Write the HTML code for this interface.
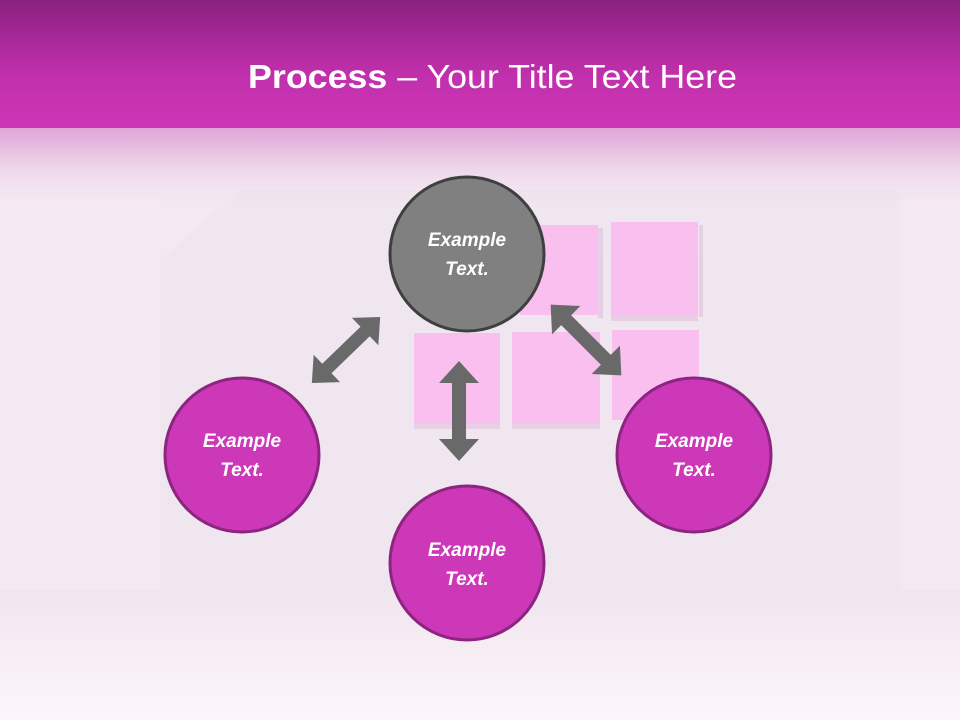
<!DOCTYPE html>
<html><head><meta charset="utf-8"><style>
html,body{margin:0;padding:0;}
body{width:960px;height:720px;overflow:hidden;position:relative;background:#f2e6f0;font-family:"Liberation Sans",sans-serif;}
</style></head><body>
<svg width="960" height="720" viewBox="0 0 960 720" xmlns="http://www.w3.org/2000/svg" style="position:absolute;left:0;top:0">
<defs>
<linearGradient id="hd" x1="0" y1="0" x2="0" y2="1">
<stop offset="0" stop-color="#8b2180"/>
<stop offset="0.6" stop-color="#c230ad"/>
<stop offset="1" stop-color="#cc35b5"/>
</linearGradient>
<linearGradient id="fade" x1="0" y1="0" x2="0" y2="1">
<stop offset="0" stop-color="#dfa6d6"/>
<stop offset="0.4" stop-color="#ebcde6"/>
<stop offset="1" stop-color="#f1e4ef" stop-opacity="0"/>
</linearGradient>
<linearGradient id="floor" x1="0" y1="0" x2="0" y2="1">
<stop offset="0" stop-color="#f1e5ef"/>
<stop offset="1" stop-color="#fcf6fb"/>
</linearGradient>
</defs>
<rect x="0" y="0" width="960" height="720" fill="#f4e9f3"/>
<rect x="160" y="190" width="740" height="400" fill="#efe6ef"/>
<polygon points="160,260 240,190 160,190" fill="#f3e9f2"/>
<rect x="0" y="590" width="960" height="130" fill="url(#floor)"/>
<rect x="0" y="128" width="960" height="80" fill="url(#fade)"/>
<rect x="0" y="0" width="960" height="128" fill="url(#hd)"/>
<text x="248" y="88" fill="#fff" font-size="33" textLength="489" lengthAdjust="spacingAndGlyphs"><tspan font-weight="bold">Process</tspan> – Your Title Text Here</text>
<g fill="#e3c6df" opacity="0.7">
<rect x="598" y="228" width="5" height="90"/><rect x="611" y="316" width="87" height="5"/>
<rect x="414" y="424" width="86" height="5"/><rect x="512" y="424" width="88" height="5"/>
<rect x="699" y="225" width="4" height="92"/>
</g>
<g fill="#f9c0ef">
<rect x="520" y="225" width="78" height="90"/>
<rect x="611" y="222" width="87" height="94"/>
<rect x="414" y="333" width="86" height="91"/>
<rect x="512" y="332" width="88" height="92"/>
<rect x="612" y="330" width="87" height="90"/>
</g>
<g id="arrows" fill="#696969">
<g transform="translate(346,350) rotate(-44) scale(0.95,0.95)"><polygon points="-50,0 -28,-20 -28,-7 28,-7 28,-20 50,0 28,20 28,7 -28,7 -28,20"/></g>
<g transform="translate(459,411) rotate(90)"><polygon points="-50,0 -28,-20 -28,-7 28,-7 28,-20 50,0 28,20 28,7 -28,7 -28,20"/></g>
<g transform="translate(586,340) rotate(45)"><polygon points="-50,0 -28,-20 -28,-7 28,-7 28,-20 50,0 28,20 28,7 -28,7 -28,20"/></g>
</g>
<circle cx="467" cy="254" r="77" fill="#808080" stroke="#3f3f3f" stroke-width="3"/>
<circle cx="242" cy="455" r="77" fill="#cc38b8" stroke="#8c2480" stroke-width="3"/>
<circle cx="467" cy="563" r="77" fill="#cc38b8" stroke="#8c2480" stroke-width="3"/>
<circle cx="694" cy="455" r="77" fill="#cc38b8" stroke="#8c2480" stroke-width="3"/>
<g fill="#fff" font-size="19" font-weight="bold" font-style="italic" text-anchor="middle">
<text x="467" y="246">Example</text><text x="467" y="275">Text.</text>
<text x="242" y="447">Example</text><text x="242" y="476">Text.</text>
<text x="467" y="556">Example</text><text x="467" y="585">Text.</text>
<text x="694" y="447">Example</text><text x="694" y="476">Text.</text>
</g>
</svg>
</body></html>
